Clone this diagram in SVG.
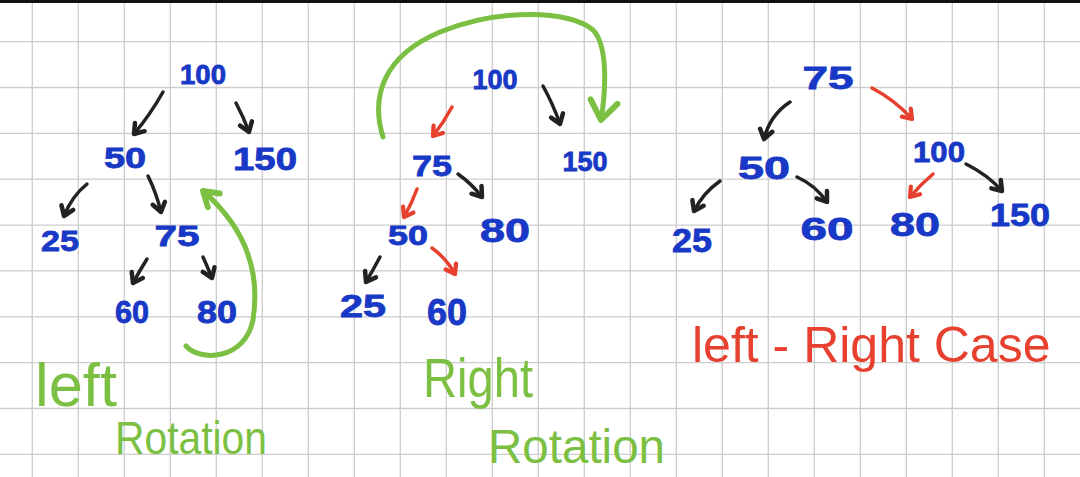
<svg xmlns="http://www.w3.org/2000/svg" width="1080" height="477" viewBox="0 0 1080 477">
<style>
.grid line{stroke:#cdcdcd;stroke-width:1.3}
.n{font-family:"Liberation Sans",Arial,sans-serif;font-weight:bold;fill:#1838c6;stroke:#1838c6;stroke-width:0.8;text-anchor:middle}
.lbl{font-family:"Liberation Sans",Arial,sans-serif;text-anchor:start}
.g{fill:#7cc043}
.r{fill:#e8402e}
.ak{fill:none;stroke:#222;stroke-width:3.5;stroke-linecap:round;marker-end:url(#hk)}
.ar{fill:none;stroke:#e8402e;stroke-width:3.5;stroke-linecap:round;marker-end:url(#hr)}
.ag{fill:none;stroke:#7cc043;stroke-width:5;stroke-linecap:round}
</style>
<defs>
<marker id="hk" viewBox="0 0 20 20" refX="15" refY="10" markerWidth="18" markerHeight="18" markerUnits="userSpaceOnUse" orient="auto"><path d="M5,3 L15,10 L5,17" fill="none" stroke="#222" stroke-width="5" stroke-linecap="round" stroke-linejoin="round"/></marker>
<marker id="hr" viewBox="0 0 20 20" refX="15" refY="10" markerWidth="17" markerHeight="17" markerUnits="userSpaceOnUse" orient="auto"><path d="M5,3 L15,10 L5,17" fill="none" stroke="#e8402e" stroke-width="5" stroke-linecap="round" stroke-linejoin="round"/></marker>
<marker id="hg" viewBox="0 0 20 20" refX="15" refY="10" markerWidth="26" markerHeight="26" markerUnits="userSpaceOnUse" orient="auto"><path d="M4,3 L15,10 L4,17" fill="none" stroke="#7cc043" stroke-width="4.5" stroke-linecap="round" stroke-linejoin="round"/></marker>
<marker id="hg2" viewBox="0 0 20 20" refX="15" refY="10" markerWidth="34" markerHeight="34" markerUnits="userSpaceOnUse" orient="auto"><path d="M4,2 L15,10 L4,18" fill="none" stroke="#7cc043" stroke-width="3.5" stroke-linecap="round" stroke-linejoin="round"/></marker>
</defs>
<rect width="1080" height="477" fill="#ffffff"/>
<g class="grid">
<line x1="32.3" y1="0" x2="32.3" y2="477"/><line x1="78.3" y1="0" x2="78.3" y2="477"/><line x1="124.3" y1="0" x2="124.3" y2="477"/><line x1="170.3" y1="0" x2="170.3" y2="477"/><line x1="216.3" y1="0" x2="216.3" y2="477"/><line x1="262.3" y1="0" x2="262.3" y2="477"/><line x1="308.3" y1="0" x2="308.3" y2="477"/><line x1="354.3" y1="0" x2="354.3" y2="477"/><line x1="400.3" y1="0" x2="400.3" y2="477"/><line x1="446.3" y1="0" x2="446.3" y2="477"/><line x1="492.3" y1="0" x2="492.3" y2="477"/><line x1="538.3" y1="0" x2="538.3" y2="477"/><line x1="584.3" y1="0" x2="584.3" y2="477"/><line x1="630.3" y1="0" x2="630.3" y2="477"/><line x1="676.3" y1="0" x2="676.3" y2="477"/><line x1="722.3" y1="0" x2="722.3" y2="477"/><line x1="768.3" y1="0" x2="768.3" y2="477"/><line x1="814.3" y1="0" x2="814.3" y2="477"/><line x1="860.3" y1="0" x2="860.3" y2="477"/><line x1="906.3" y1="0" x2="906.3" y2="477"/><line x1="952.3" y1="0" x2="952.3" y2="477"/><line x1="998.3" y1="0" x2="998.3" y2="477"/><line x1="1044.3" y1="0" x2="1044.3" y2="477"/>
<line x1="0" y1="41.7" x2="1080" y2="41.7"/><line x1="0" y1="87.5" x2="1080" y2="87.5"/><line x1="0" y1="133.4" x2="1080" y2="133.4"/><line x1="0" y1="179.2" x2="1080" y2="179.2"/><line x1="0" y1="225.1" x2="1080" y2="225.1"/><line x1="0" y1="270.9" x2="1080" y2="270.9"/><line x1="0" y1="316.8" x2="1080" y2="316.8"/><line x1="0" y1="362.6" x2="1080" y2="362.6"/><line x1="0" y1="408.5" x2="1080" y2="408.5"/><line x1="0" y1="454.3" x2="1080" y2="454.3"/>
</g>
<rect x="0" y="0" width="1080" height="3" fill="#111"/>
<g id="connectors">
<path class="ak" d="M163,92 Q150,115 134,134"/>
<path class="ak" d="M236,103 Q244,118 249,132"/>
<path class="ak" d="M87,184 Q72,196 64,216"/>
<path class="ak" d="M148,176 Q156,192 161,212"/>
<path class="ak" d="M147,259 Q140,270 133,283"/>
<path class="ak" d="M203,257 Q208,268 212,278"/>
<path class="ag" marker-end="url(#hg)" d="M186,346 C200,362 245,360 253,320 C260,275 248,230 203,191"/>
<path class="ar" d="M452,107 Q444,122 433,136"/>
<path class="ak" d="M543,86 Q553,104 560,124"/>
<path class="ak" d="M458,174 Q472,184 482,197"/>
<path class="ar" d="M417,189 Q412,203 404,217"/>
<path class="ak" d="M380,257 Q373,270 366,282"/>
<path class="ar" d="M432,248 Q446,258 455,274"/>
<path class="ag" marker-end="url(#hg2)" d="M383,137 C370,95 385,55 440,32 C500,8 570,10 593,30 C608,45 606,90 601,120"/>
<path class="ak" d="M790,102 Q770,115 764,139"/>
<path class="ar" d="M872,88 Q895,100 912,119"/>
<path class="ak" d="M720,181 Q703,193 694,211"/>
<path class="ak" d="M797,177 Q815,185 827,202"/>
<path class="ar" d="M933,174 Q920,185 910,197"/>
<path class="ak" d="M966,164 Q988,175 1002,191"/>
</g>
<g id="left-tree">
<g id="l100"><text class="n" x="203" y="84" font-size="28" textLength="46" lengthAdjust="spacingAndGlyphs">100</text></g>
<g id="l50"><text class="n" x="125" y="168" font-size="29" textLength="42" lengthAdjust="spacingAndGlyphs">50</text></g>
<g id="l150"><text class="n" x="265" y="170" font-size="31" textLength="64" lengthAdjust="spacingAndGlyphs">150</text></g>
<g id="l25"><text class="n" x="60" y="251" font-size="29" textLength="38" lengthAdjust="spacingAndGlyphs">25</text></g>
<g id="l75"><text class="n" x="177" y="246" font-size="30" textLength="45" lengthAdjust="spacingAndGlyphs">75</text></g>
<g id="l60"><text class="n" x="132" y="323" font-size="31" textLength="34" lengthAdjust="spacingAndGlyphs">60</text></g>
<g id="l80"><text class="n" x="217" y="323" font-size="31" textLength="40" lengthAdjust="spacingAndGlyphs">80</text></g>
</g>
<g id="mid-tree">
<g id="m100"><text class="n" x="495" y="89" font-size="27" textLength="45" lengthAdjust="spacingAndGlyphs">100</text></g>
<g id="m150"><text class="n" x="585" y="171" font-size="27" textLength="45" lengthAdjust="spacingAndGlyphs">150</text></g>
<g id="m75"><text class="n" x="432" y="176" font-size="30" textLength="40" lengthAdjust="spacingAndGlyphs">75</text></g>
<g id="m80"><text class="n" x="505" y="242" font-size="33" textLength="50" lengthAdjust="spacingAndGlyphs">80</text></g>
<g id="m50"><text class="n" x="408" y="245" font-size="27" textLength="40" lengthAdjust="spacingAndGlyphs">50</text></g>
<g id="m25"><text class="n" x="363" y="317" font-size="31" textLength="46" lengthAdjust="spacingAndGlyphs">25</text></g>
<g id="m60"><text class="n" x="447" y="325" font-size="36" textLength="40" lengthAdjust="spacingAndGlyphs">60</text></g>
</g>
<g id="right-tree">
<g id="r75"><text class="n" x="828" y="89" font-size="32" textLength="51" lengthAdjust="spacingAndGlyphs">75</text></g>
<g id="r50"><text class="n" x="764" y="179" font-size="32" textLength="52" lengthAdjust="spacingAndGlyphs">50</text></g>
<g id="r100"><text class="n" x="939" y="162" font-size="29" textLength="52" lengthAdjust="spacingAndGlyphs">100</text></g>
<g id="r25"><text class="n" x="692" y="252" font-size="34" textLength="40" lengthAdjust="spacingAndGlyphs">25</text></g>
<g id="r60"><text class="n" x="827" y="240" font-size="32" textLength="53" lengthAdjust="spacingAndGlyphs">60</text></g>
<g id="r80"><text class="n" x="915" y="236" font-size="34" textLength="50" lengthAdjust="spacingAndGlyphs">80</text></g>
<g id="r150"><text class="n" x="1020" y="226" font-size="32" textLength="60" lengthAdjust="spacingAndGlyphs">150</text></g>
</g>
<g id="labels">
<text class="lbl g" x="35" y="406" font-size="62" textLength="82" lengthAdjust="spacingAndGlyphs">left</text>
<text class="lbl g" x="115" y="454" font-size="46" textLength="152" lengthAdjust="spacingAndGlyphs">Rotation</text>
<text class="lbl g" x="423" y="397" font-size="56" textLength="110" lengthAdjust="spacingAndGlyphs">Right</text>
<text class="lbl g" x="488" y="463" font-size="48" textLength="177" lengthAdjust="spacingAndGlyphs">Rotation</text>
<text class="lbl r" x="692" y="362" font-size="50">left - Right Case</text>
</g>
</svg>
